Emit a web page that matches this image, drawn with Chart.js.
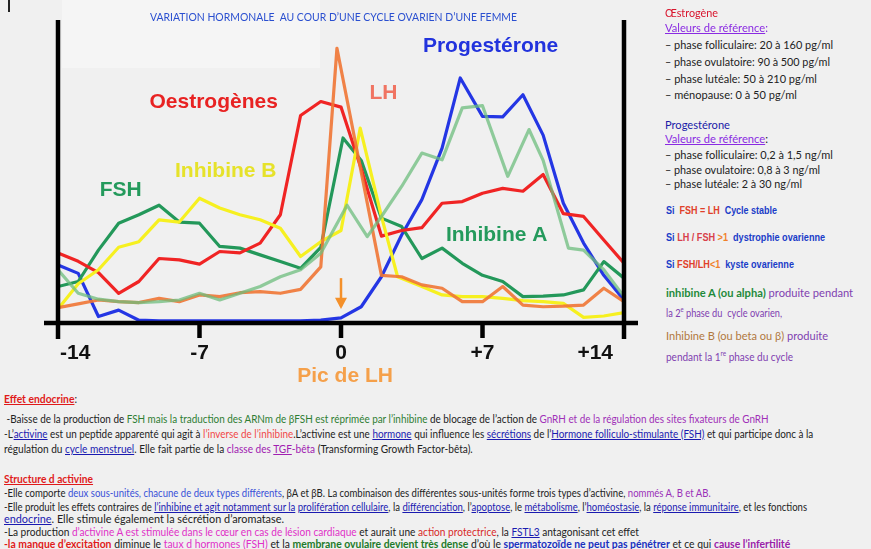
<!DOCTYPE html>
<html>
<head>
<meta charset="utf-8">
<script src="https://cdn.jsdelivr.net/npm/chart.js@4.4.1/dist/chart.umd.min.js"></script>
<style>
  body { margin: 0; width: 871px; height: 549px; background: #f0f0f0; overflow: hidden; position: relative; }
  #wrap { position: absolute; left: 0; top: 0; width: 650px; height: 390px; }
  .t { position: absolute; white-space: nowrap; font-family: Lato, "Open Sans", sans-serif; font-size: 11px; line-height: 12px; color: #222; transform-origin: 0 50%; }
  .n { font-family: "Liberation Sans", Arial, sans-serif; font-weight: bold; font-size: 10px; }
  .u { text-decoration: underline; }
  .b { font-weight: bold; }
</style>
</head>
<body>
<div style="position:absolute;left:8px;top:0;width:2px;height:12px;background:#222"></div>
<div style="position:absolute;left:62px;top:0;width:258px;height:68px;background:#f5f5f5"></div>
<div id="wrap"><canvas id="cycle" width="650" height="390"></canvas></div>
<div class="t" style="left:150px;top:11px;color:#2a4fd0;font-size:10.5px" data-w="367">VARIATION HORMONALE&nbsp; AU COUR D’UNE CYCLE OVARIEN D’UNE FEMME</div>

<!-- panneau de droite -->
<div class="t" style="left:665px;top:7px;color:#d8142c" data-w="53">Œstrogène</div>
<div class="t" style="left:665px;top:22px" data-w="103"><span class="u" style="color:#8a2be2">Valeurs de référence</span><span style="color:#8a2be2">:</span></div>
<div class="t" style="left:665px;top:39px" data-w="168">– phase folliculaire: 20 à 160 pg/ml</div>
<div class="t" style="left:665px;top:56px" data-w="165">– phase ovulatoire: 90 à 500 pg/ml</div>
<div class="t" style="left:665px;top:73px" data-w="152">– phase lutéale: 50 à 210 pg/ml</div>
<div class="t" style="left:665px;top:89px" data-w="132">– ménopause: 0 à 50 pg/ml</div>
<div class="t" style="left:665px;top:119px;color:#1a1aa8" data-w="65">Progestérone</div>
<div class="t" style="left:665px;top:133px" data-w="103"><span class="u" style="color:#8a2be2">Valeurs de référence</span>:</div>
<div class="t" style="left:665px;top:149px" data-w="168">– phase folliculaire: 0,2 à 1,5 ng/ml</div>
<div class="t" style="left:665px;top:164px" data-w="155">– phase ovulatoire: 0,8 à 3 ng/ml</div>
<div class="t" style="left:665px;top:178px" data-w="137">– phase lutéale: 2 à 30 ng/ml</div>

<div class="t n" style="left:666px;top:205px;color:#1a3cc8" data-w="111">Si&nbsp; <span style="color:#e0402a">FSH = LH</span>&nbsp; Cycle stable</div>
<div class="t n" style="left:666px;top:232px;color:#1a3cc8" data-w="159">Si <span style="color:#d8404a">LH / FSH</span> <span style="color:#f0802a">&gt;1</span>&nbsp; dystrophie ovarienne</div>
<div class="t n" style="left:666px;top:259px;color:#1a3cc8" data-w="128">Si <span style="color:#e0402a">FSH/LH</span><span style="color:#f0802a">&lt;1</span>&nbsp; kyste ovarienne</div>
<div class="t" style="left:666px;top:287px;color:#8040b0" data-w="187"><span class="b" style="color:#1e8a3a">inhibine A (ou alpha)</span> produite pendant</div>
<div class="t" style="left:666px;top:303px;color:#8040b0" data-w="116">la 2<sup style="font-size:7px">e</sup> phase du&nbsp; cycle ovarien,</div>
<div class="t" style="left:666px;top:330px;color:#8040b0" data-w="162"><span style="color:#b07840">Inhibine B (ou beta ou β)</span> produite</div>
<div class="t" style="left:666px;top:347px;color:#8040b0" data-w="127">pendant la 1<sup style="font-size:7px">re</sup> phase du cycle</div>

<!-- texte du bas -->
<div class="t" style="left:4px;top:393px" data-w="73"><span class="u b" style="color:#e01a1a">Effet endocrine</span>:</div>
<div class="t" style="left:4px;top:413px" data-w="765">&nbsp;-Baisse de la production de <span style="color:#2e7d32">FSH mais la traduction des ARNm de βFSH est réprimée par l’inhibine</span> de blocage de l’action de <span style="color:#a030b8">GnRH et de la régulation des sites fixateurs de GnRH</span></div>
<div class="t" style="left:4px;top:428px" data-w="809">-L’<span class="u" style="color:#1a1ab0">activine</span> est un peptide apparenté qui agit à <span style="color:#f04848">l’inverse de l’inhibine</span>.L’activine est une <span class="u" style="color:#1a1ab0">hormone</span> qui influence les <span class="u" style="color:#1a1ab0">sécrétions</span> de l’<span class="u" style="color:#1a1ab0">Hormone folliculo-stimulante (FSH)</span> et qui participe donc à la</div>
<div class="t" style="left:4px;top:443px" data-w="469">régulation du <span class="u" style="color:#1a1ab0">cycle menstruel</span>. Elle fait partie de la <span style="color:#a020b0">classe des <span class="u">TGF</span>-bêta</span> (Transforming Growth Factor-bêta).</div>
<div class="t" style="left:4px;top:473px" data-w="89"><span class="u b" style="color:#e01a1a">Structure d activine</span></div>
<div class="t" style="left:4px;top:487px" data-w="707">-Elle comporte <span style="color:#3a50d8">deux sous-unités, chacune de deux types différents</span>, βA et βB. La combinaison des différentes sous-unités forme trois types d’activine, <span style="color:#9a30b8">nommés A, B et AB.</span></div>
<div class="t" style="left:4px;top:501px" data-w="803">-Elle produit les effets contraires de <span class="u" style="color:#1a1ab0">l’inhibine et agit notamment sur la</span> <span class="u" style="color:#1a1ab0">prolifération cellulaire</span>, la <span class="u" style="color:#1a1ab0">différenciation</span>, l’<span class="u" style="color:#1a1ab0">apoptose</span>, le <span class="u" style="color:#1a1ab0">métabolisme</span>, l’<span class="u" style="color:#1a1ab0">homéostasie</span>, la <span class="u" style="color:#1a1ab0">réponse immunitaire</span>, et les fonctions</div>
<div class="t" style="left:4px;top:513px" data-w="280"><span class="u" style="color:#1a1ab0">endocrine</span>. Elle stimule également la sécrétion d’aromatase.</div>
<div class="t" style="left:4px;top:526px" data-w="635">-La production <span style="color:#e030c8">d’activine A est stimulée dans le cœur en cas de lésion cardiaque</span> et aurait une <span style="color:#d82828">action protectrice</span>, la <span class="u" style="color:#1a1ab0">FSTL3</span> antagonisant cet effet</div>
<div class="t" style="left:4px;top:538px" data-w="786"><span class="b" style="color:#e01a1a">-la manque d’excitation</span> diminue le <span style="color:#e030c8">taux d hormones (FSH)</span> et la <span class="b" style="color:#1e7a2a">membrane ovulaire devient très dense</span> d’où le <span class="b" style="color:#1a30c0">spermatozoïde ne peut pas pénétrer</span> et ce qui <span class="b" style="color:#9a20a8">cause l’infertilité</span></div>

<script>
// jours du cycle (0 = pic de LH) et niveaux relatifs
var estDays  = [-14,-13,-12,-11,-10,-9,-8,-7,-6,-5,-4,-3,-2,-1,0,1,2,3,4,5,6,7,8,9,10,11,12,13,14];
var estLevel = [25,22,18,10.6,14.8,23,22.5,21,25.5,25,28.5,38.6,74,79,77,55,31,33,34,42.7,43.3,46.3,48,47,53,39,38,29.6,21.3];

var lhDays  = [-14,-13,-12,-11,-10,-9,-8,-7,-6,-5,-4,-3,-2,-1,-0.2,2,3,4,5,6,7,8,9,10,11,12,13,14];
var lhLevel = [5.5,6.8,8.2,7.6,7.3,8.8,7.6,10,9.4,10.8,11.2,10.6,12,20,98,17,16.5,13.6,12.4,7.6,7.6,13,6.4,5.8,6,6.4,12.4,7.6];

var inhBDays  = [-14,-13,-12,-11,-10,-9,-8,-7,-6,-5,-4,-3,-2,-1,0,0.95,2,2.8,4,5,6,7,8,9,10,11,12,13,14];
var inhBLevel = [5,14,19,27,29,36.8,36,44.5,41,38.6,36.8,33.8,23.7,29,33,69.5,38,16.5,13,10,9.4,9.4,8.8,8,7.6,7,2,2.5,3.7];

var fshDays  = [-14,-13,-12,-11,-10,-9,-8,-7,-6,-5,-4,-3,-2,-1,0.1,1,2,3,4,5,6,7,8,9,10,11,12,13,14];
var fshLevel = [13,14.8,26,35.6,38.6,42,36,35.6,27.3,26.7,24.3,21.9,19.5,27,66,58,37.4,34.4,23,26.7,21.3,17,14.8,9.4,9.6,10,11.8,21.9,16];

var progDays  = [-14,-13,-12,-11,-10,-9,-8,-7,-6,-5,-4,-3,-2,-1,0,1,2,3,4,5,5.9,7,8,9,10,11,12,13,14];
var progLevel = [20.7,17.7,2.3,4.6,1,0.8,0.8,0.8,0.8,0.8,0.8,0.8,0.8,1,1.8,5.8,16.5,31.4,44,62.4,87.4,73.7,73.5,81.4,67,42.7,28.5,17,8.2];

var inhADays  = [-14,-13,-12,-11,-10,-9,-8,-7,-6,-5,-4,-3,-2,-1,0.3,1.3,2,3,4,5,6,7,8.25,9.3,10,11.25,12,13,14];
var inhALevel = [19,10.6,8.5,7.6,7.3,7.6,8.2,10.6,8.2,10.6,13,16.5,19,24.9,42,30.8,38,48.7,60.6,58.2,76.7,77.5,52.3,69,58,26.7,26,19,9.4];

var tickDays   = [-14,-7,0,7,14];
var tickLabels = ['-14','-7','0','+7','+14'];

// étiquettes posées sur la figure : [texte, jour, niveau, couleur]
var seriesNames = [
  ['Progestérone', 7.4, 98.6, '#2233dd'],
  ['LH', 2.1, 82, '#f07462'],
  ['Oestrogènes', -6.3, 78.6, '#e82222'],
  ['Inhibine B', -5.7, 54.3, '#e6e22a'],
  ['FSH', -10.9, 47.5, '#249a5c'],
  ['Inhibine A', 7.7, 31.4, '#249a5c']
];

function pts(xs, ys) {
  return xs.map(function (x, i) { return { x: x, y: ys[i] }; });
}

function serie(label, xs, ys, color) {
  return {
    label: label,
    data: pts(xs, ys),
    borderColor: color,
    borderWidth: 3.2,
    pointRadius: 0,
    tension: 0,
    fill: false,
    borderJoinStyle: 'round'
  };
}

// axes, graduations et textes dessinés à la main
var decor = {
  id: 'decor',
  afterDatasetsDraw: function (chart) {
    var ctx = chart.ctx, xs = chart.scales.x, ys = chart.scales.y;
    var base = ys.getPixelForValue(0);
    var left = xs.getPixelForValue(-14), right = xs.getPixelForValue(14);
    ctx.save();
    ctx.strokeStyle = '#000';
    ctx.lineWidth = 4.5;
    ctx.beginPath();
    ctx.moveTo(left, 20); ctx.lineTo(left, base + 16);
    ctx.moveTo(right, 20); ctx.lineTo(right, base + 16);
    ctx.moveTo(left - 14, base); ctx.lineTo(right + 14, base);
    tickDays.forEach(function (d) {
      var px = xs.getPixelForValue(d);
      ctx.moveTo(px, base); ctx.lineTo(px, base + 15);
    });
    ctx.stroke();

    ctx.font = 'bold 21px "Liberation Sans", Arial, sans-serif';
    ctx.textBaseline = 'middle';
    ctx.fillStyle = '#111';
    tickDays.forEach(function (d, i) {
      var px = xs.getPixelForValue(d);
      if (i === 0) { ctx.textAlign = 'left'; px += 2; }
      else if (i === tickDays.length - 1) { ctx.textAlign = 'right'; px -= 11; }
      else ctx.textAlign = 'center';
      ctx.fillText(tickLabels[i], px, base + 30);
    });

    ctx.textAlign = 'center';
    seriesNames.forEach(function (s) {
      ctx.fillStyle = s[3];
      ctx.fillText(s[0], xs.getPixelForValue(s[1]), ys.getPixelForValue(s[2]));
    });

    ctx.fillStyle = '#f5a04a';
    ctx.fillText('Pic de LH', xs.getPixelForValue(0.2), base + 53);

    // flèche du pic de LH
    var ax = xs.getPixelForValue(0);
    ctx.strokeStyle = '#f4902a';
    ctx.lineWidth = 2.5;
    ctx.beginPath();
    ctx.moveTo(ax, ys.getPixelForValue(16)); ctx.lineTo(ax, ys.getPixelForValue(6));
    ctx.stroke();
    ctx.fillStyle = '#f4902a';
    ctx.beginPath();
    ctx.moveTo(ax - 6, ys.getPixelForValue(9));
    ctx.lineTo(ax + 6, ys.getPixelForValue(9));
    ctx.lineTo(ax, ys.getPixelForValue(5));
    ctx.closePath();
    ctx.fill();
    ctx.restore();
  }
};

var ctx = document.getElementById('cycle').getContext('2d');
var myChart = new Chart(ctx, {
  type: 'line',
  data: {
    datasets: [
      serie('Inhibine A', inhADays, inhALevel, 'rgba(110,190,125,0.75)'),
      serie('LH', lhDays, lhLevel, 'rgba(240,118,52,0.9)'),
      serie('Inhibine B', inhBDays, inhBLevel, '#f6f020'),
      serie('Oestrogènes', estDays, estLevel, '#f02424'),
      serie('FSH', fshDays, fshLevel, '#23985a'),
      serie('Progestérone', progDays, progLevel, '#2436e4')
    ]
  },
  options: {
    responsive: false,
    animation: false,
    layout: { padding: { left: 58, right: 26, top: 23, bottom: 67 } },
    plugins: { legend: { display: false }, tooltip: { enabled: false } },
    scales: {
      x: { type: 'linear', min: -14, max: 14, display: false },
      y: { min: 0, max: 107, display: false }
    }
  },
  plugins: [decor]
});

// ajuste la largeur des lignes de texte à celle de l'original
document.querySelectorAll('[data-w]').forEach(function (el) {
  var w = el.getBoundingClientRect().width;
  var target = parseFloat(el.getAttribute('data-w'));
  if (w > 0) el.style.transform = 'scaleX(' + (target / w).toFixed(3) + ')';
});
</script>
</body>
</html>
